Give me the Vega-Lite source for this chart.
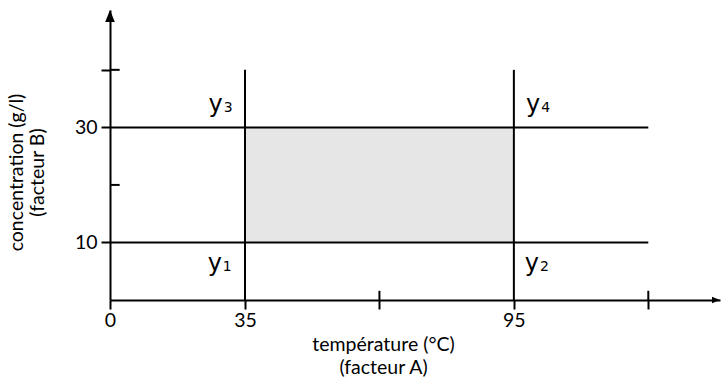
{
  "$schema": "https://vega.github.io/schema/vega-lite/v6.json",
  "autosize": "none",
  "width": 611,
  "height": 290,
  "padding": {"left": 110, "top": 10, "right": 0, "bottom": 78},
  "background": "white",
  "config": {"view": {"stroke": null}},
  "layer": [
    {
      "data": {"values": [{"a0": 35, "a1": 95, "b0": 10, "b1": 30}]},
      "mark": {"type": "rect", "fill": "#e6e6e6", "strokeWidth": 0},
      "encoding": {
        "x": {
          "field": "a0", "type": "quantitative",
          "scale": {"domain": [0, 35, 141], "range": [0, 135, 610], "nice": false, "zero": false},
          "axis": {
            "values": [0, 35, 65, 95, 125],
            "labelExpr": "datum.value == 65 || datum.value == 125 ? '' : datum.label",
            "grid": false, "domainColor": "#000000", "domainWidth": 2,
            "tickColor": "#000000", "tickWidth": 2, "tickSize": 9,
            "labelFont": "Lato", "labelFontSize": 19.5, "labelColor": "#000000", "labelPadding": 2,
            "labelOverlap": false, "labelBound": false, "labelFlush": false,
            "title": ["température (°C)", "(facteur A)"],
            "titleFont": "Lato", "titleFontSize": 19.5, "titleFontWeight": "normal", "titleColor": "#000000",
            "titleX": 273, "titleY": 35, "titleAlign": "center", "titleBaseline": "top", "titleLineHeight": 23
          }
        },
        "x2": {"field": "a1"},
        "y": {
          "field": "b0", "type": "quantitative",
          "scale": {"domain": [0, 50.4], "nice": false, "zero": false},
          "axis": {
            "values": [10, 30, 40],
            "labelExpr": "datum.value == 40 ? '' : datum.label",
            "grid": false, "domainColor": "#000000", "domainWidth": 2,
            "tickColor": "#000000", "tickWidth": 2, "tickSize": 9,
            "labelFont": "Lato", "labelFontSize": 19.5, "labelColor": "#000000", "labelPadding": 4,
            "labelOverlap": false, "labelBound": false, "labelFlush": false,
            "title": ["concentration (g/l)", "(facteur B)"],
            "titleFont": "Lato", "titleFontSize": 19.5, "titleFontWeight": "normal", "titleColor": "#000000",
            "titleAngle": -90, "titleX": -94, "titleY": 162, "titleAlign": "center", "titleBaseline": "middle", "titleLineHeight": 21
          }
        },
        "y2": {"field": "b1"}
      }
    },
    {
      "data": {"values": [
        {"x1": 0, "x2": 125, "y1": 10, "y2": 10},
        {"x1": 0, "x2": 125, "y1": 30, "y2": 30},
        {"x1": 35, "x2": 35, "y1": 0, "y2": 40},
        {"x1": 95, "x2": 95, "y1": 0, "y2": 40},
        {"x1": 65, "x2": 65, "y1": 0, "y2": 1.6},
        {"x1": 125, "x2": 125, "y1": 0, "y2": 1.6},
        {"x1": 0, "x2": 2.5, "y1": 20, "y2": 20},
        {"x1": 0, "x2": 2.5, "y1": 40, "y2": 40}
      ]},
      "mark": {"type": "rule", "color": "#000000", "strokeWidth": 2},
      "encoding": {
        "x": {"field": "x1", "type": "quantitative"},
        "x2": {"field": "x2"},
        "y": {"field": "y1", "type": "quantitative"},
        "y2": {"field": "y2"}
      }
    },
    {
      "data": {"values": [{"x": 0, "y": 50.4}]},
      "mark": {"type": "point", "shape": "M0,0L0.8,2L-0.8,2Z", "size": 144, "filled": true, "color": "#000000", "opacity": 1, "strokeWidth": 0},
      "encoding": {
        "x": {"field": "x", "type": "quantitative"},
        "y": {"field": "y", "type": "quantitative"}
      }
    },
    {
      "data": {"values": [{"x": 141, "y": 0}]},
      "mark": {"type": "point", "shape": "M0,0L-2,-0.8L-2,0.8Z", "size": 64, "filled": true, "color": "#000000", "opacity": 1, "strokeWidth": 0},
      "encoding": {
        "x": {"field": "x", "type": "quantitative"},
        "y": {"field": "y", "type": "quantitative"}
      }
    },
    {
      "data": {"name": "labels", "values": [
        {"x": 29, "y": 5, "t": "y", "n": "1"},
        {"x": 100.6, "y": 5, "t": "y", "n": "2"},
        {"x": 29.2, "y": 32.7, "t": "y", "n": "3"},
        {"x": 100.9, "y": 32.7, "t": "y", "n": "4"}
      ]},
      "layer": [
        {
          "mark": {"type": "text", "font": "DejaVu Sans", "fontSize": 24, "align": "right", "baseline": "alphabetic", "color": "#000000"},
          "encoding": {
            "x": {"field": "x", "type": "quantitative"},
            "y": {"field": "y", "type": "quantitative"},
            "text": {"field": "t"}
          }
        },
        {
          "mark": {"type": "text", "font": "DejaVu Sans", "fontSize": 14, "align": "left", "baseline": "alphabetic", "color": "#000000", "dx": 1},
          "encoding": {
            "x": {"field": "x", "type": "quantitative"},
            "y": {"field": "y", "type": "quantitative"},
            "text": {"field": "n"}
          }
        }
      ]
    }
  ]
}
